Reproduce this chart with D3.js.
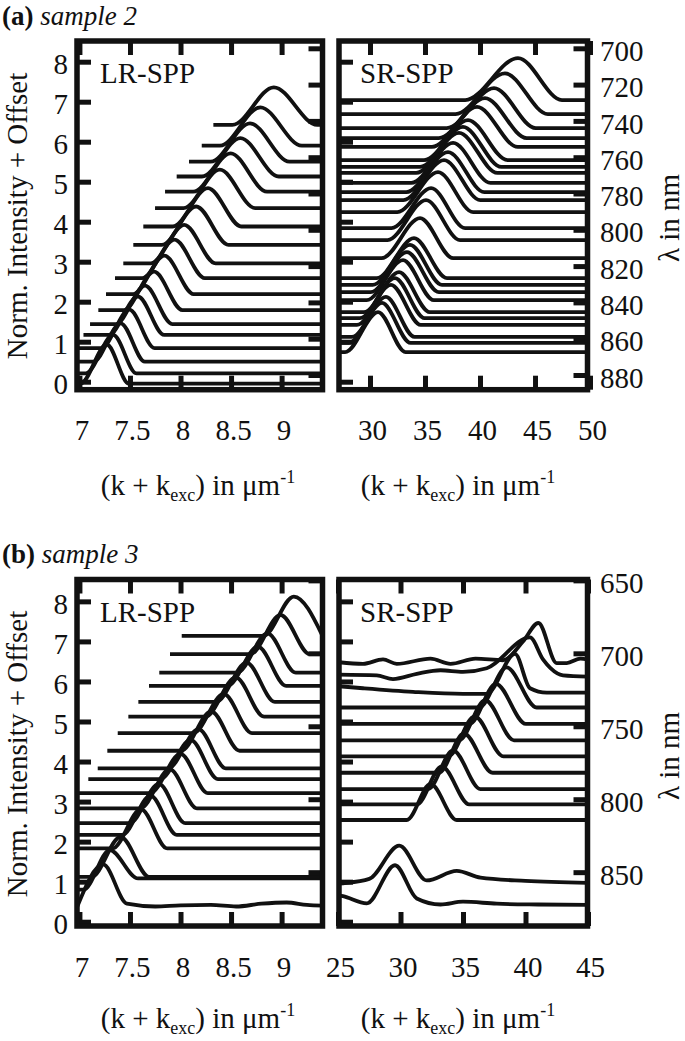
<!DOCTYPE html>
<html><head><meta charset="utf-8">
<script src="https://cdn.jsdelivr.net/npm/d3@7"></script>
<style>
html,body{margin:0;padding:0;background:#fff;}
svg{display:block;}
</style></head><body>
<svg id="chart" width="685" height="1041"></svg>
<script>
// ---------- tick values ----------
const yTicks = [0,1,2,3,4,5,6,7,8];
const xTicksLR = [7,7.5,8,8.5,9];
const xTicksSRa = [30,35,40,45,50];
const xTicksSRb = [25,30,35,40,45];
const lamTicksA = [700,720,740,760,780,800,820,840,860,880];
const lamTicksB = [650,700,750,800,850];

// ---------- (a) sample 2, LR-SPP : one entry per spectrum (bottom -> top) ----------
const aLR_offset = [-0.05,0.21,0.50,0.84,1.17,1.44,1.79,2.19,2.59,2.96,3.42,3.88,4.34,4.75,5.13,5.50,5.90,6.42];
const aLR_start  = [6.976,6.976,6.976,6.976,7.04,7.105,7.187,7.263,7.352,7.434,7.533,7.632,7.748,7.847,7.962,8.084,8.21,8.325];
const aLR_peak   = [7.27,7.334,7.408,7.494,7.579,7.649,7.739,7.841,7.941,8.037,8.155,8.272,8.389,8.496,8.592,8.688,8.790,8.923];
const aLR_height = [0.98,0.96,0.96,0.96,0.96,0.96,0.96,0.96,0.96,0.96,0.96,0.96,0.96,0.96,0.96,0.96,0.96,0.94];
const aLR_riseW  = [0.26,0.27,0.27,0.28,0.29,0.29,0.30,0.31,0.32,0.33,0.34,0.35,0.36,0.37,0.38,0.39,0.40,0.41];
const aLR_fallW  = [0.22,0.23,0.24,0.25,0.26,0.27,0.28,0.29,0.30,0.31,0.32,0.33,0.35,0.36,0.38,0.39,0.41,0.43];

// ---------- (a) sample 2, SR-SPP ----------
const aSR_offset = [0.74,0.97,1.12,1.42,1.59,1.74,2.04,2.24,2.42,2.59,3.09,3.54,3.84,4.24,4.54,4.74,4.97,5.22,5.37,5.54,5.87,6.09,6.34,6.69,7.04];
const aSR_peak   = [30.73,31.09,31.45,31.91,32.27,32.64,33.0,33.36,33.64,34.0,34.55,35.09,35.55,36.18,36.73,37.09,37.55,38.09,38.45,38.91,39.73,40.45,41.27,42.27,43.45];
const aSR_height = [1,1,1,1,1,1,1,1,1,1,1,1,1,1,1,1,1,1,1,1,1,1,1,1.02,1.05];
const aSR_riseW  = [3.0,3.0,3.1,3.1,3.2,3.2,3.3,3.3,3.4,3.4,3.5,3.5,3.6,3.7,3.7,3.8,3.8,3.9,3.9,4.0,4.1,4.2,4.3,4.5,4.8];
const aSR_fallW  = [2.5,2.6,2.6,2.7,2.7,2.8,2.8,2.9,2.9,3.0,3.0,3.1,3.1,3.2,3.3,3.3,3.4,3.5,3.5,3.6,3.7,3.8,3.8,3.9,4.0];

// ---------- (b) sample 3, LR-SPP ----------
const bLR_low = [
  [[6.976,0.36],[7.235,1.43],[7.47,0.45],[7.75,0.38],[8.0,0.41],[8.3,0.42],[8.55,0.38],[8.8,0.45],[9.05,0.48],[9.25,0.42],[9.4046,0.40]],
  [[6.976,0.80],[7.04,0.80],[7.30,1.79],[7.58,1.08],[9.4046,1.08]],
  [[6.976,1.12],[7.12,1.12],[7.407,2.12],[7.69,1.12],[9.4046,1.12]]
];
const bLR_offset = [1.83,2.17,2.46,2.83,3.21,3.56,3.83,4.27,4.71,5.12,5.49,5.89,6.22,6.68,7.14];
const bLR_start  = [6.976,6.976,6.976,6.976,6.976,7.088,7.181,7.276,7.379,7.484,7.583,7.688,7.790,7.896,8.012];
const bLR_peak   = [7.608,7.703,7.786,7.893,8.0,8.100,8.178,8.304,8.427,8.546,8.653,8.765,8.860,8.990,9.121];
const bLR_height = [0.98,0.98,0.98,0.98,0.98,0.98,0.98,0.98,0.98,0.98,0.98,0.98,0.98,0.98,0.98];
const bLR_riseW  = [0.28,0.28,0.29,0.29,0.30,0.30,0.30,0.30,0.30,0.30,0.30,0.30,0.30,0.30,0.30];
const bLR_fallW  = [0.26,0.26,0.26,0.27,0.27,0.27,0.27,0.28,0.28,0.28,0.28,0.28,0.28,0.29,0.29];

// ---------- (b) sample 3, SR-SPP ----------
const bSR_wavy = [
  [[25.08,0.66],[25.4,0.64],[27.3,0.46],[29.56,1.41],[31.3,0.58],[33.2,0.43],[35.0,0.50],[37.7,0.45],[41.0,0.43],[44.96,0.42]],
  [[25.08,0.95],[25.4,0.96],[27.5,1.07],[29.9,1.90],[32.1,1.03],[34.5,1.27],[36.4,1.10],[40.0,1.02],[44.96,0.97]],
  [[25.08,5.88],[27.0,5.83],[31.0,5.74],[35.0,5.69],[36.9,5.69],[39.16,6.69],[40.36,5.83],[41.7,5.72],[44.96,5.72]],
  [[25.08,6.17],[28.1,6.15],[29.4,6.06],[31.3,6.19],[33.2,6.28],[35.0,6.24],[36.9,6.33],[40.36,7.10],[41.4,6.55],[42.0,6.33],[43.0,6.15],[44.96,6.12]],
  [[25.08,6.48],[27.0,6.44],[28.6,6.55],[29.7,6.44],[32.4,6.57],[34.0,6.44],[36.0,6.57],[38.2,6.53],[39.8,7.0],[41.03,7.46],[42.5,6.46],[43.3,6.46],[44.4,6.57],[44.96,6.55]]
];
const bSR_offset = [2.54,2.93,3.31,3.72,4.13,4.53,4.94,5.35];
const bSR_peak   = [32.4,33.3,34.2,35.07,35.93,36.78,37.63,38.49];
const bSR_height = [0.9,0.95,0.97,0.98,1.0,1.0,1.0,1.0];
const bSR_riseW  = [1.9,2.0,2.0,2.0,2.1,2.1,2.1,2.2];
const bSR_fallW  = [2.1,2.2,2.2,2.3,2.3,2.3,2.4,2.4];

// ---------- helpers ----------
const INK = '#111';
const FS = 29;
const FONT = "'Liberation Serif', Tinos, 'Times New Roman', serif";
const svg = d3.select('#chart');
const defs = svg.append('defs');
const txt = sel => sel.style('font-family', FONT).style('fill', INK);

function peakPts(start, base, peak, h, rw, fw, xmax){
  const pts = [[start, base]];
  if (peak - rw > start + 1e-6) pts.push([peak - rw, base]);
  pts.push([peak, base + h]);
  if (peak + fw < xmax - 1e-6) pts.push([peak + fw, base]);
  pts.push([xmax, base]);
  return pts;
}

const LRdom = [6.976, 9.4046];
const SRaDom = [27.18, 49.77];
const SRbDom = [25.08, 44.96];

const curvesALR = aLR_offset.map((b,i)=>peakPts(aLR_start[i], b, aLR_peak[i], aLR_height[i], aLR_riseW[i], aLR_fallW[i], LRdom[1]));
const curvesASR = aSR_offset.map((b,i)=>peakPts(SRaDom[0], b, aSR_peak[i], aSR_height[i], aSR_riseW[i], aSR_fallW[i], SRaDom[1]));
const curvesBLR = bLR_low.concat(bLR_offset.map((b,i)=>peakPts(bLR_start[i], b, bLR_peak[i], bLR_height[i], bLR_riseW[i], bLR_fallW[i], LRdom[1])));
const curvesBSR = bSR_wavy.slice(0,2)
  .concat(bSR_offset.map((b,i)=>peakPts(SRbDom[0], b, bSR_peak[i], bSR_height[i], bSR_riseW[i], bSR_fallW[i], SRbDom[1])))
  .concat(bSR_wavy.slice(2));

const rows = [
  {dy:0,   yTop:41,    yBot:389.7, vDom:[-0.2,8.5175],  lamDom:[888.1,695.98], lamTicks:lamTicksA, tag:'(a)', sample:'sample 2', titleOff:105},
  {dy:538, yTop:579.5, yBot:926,   vDom:[-0.107,8.546], lamDom:[886.9,649.4],  lamTicks:lamTicksB, tag:'(b)', sample:'sample 3', titleOff:102}
];

function drawPanel(p){
  const x = d3.scaleLinear().domain(p.xDom).range([p.x0,p.x1]);
  const y = d3.scaleLinear().domain(p.vDom).range([p.yBot,p.yTop]);
  const lam = d3.scaleLinear().domain(p.lamDom).range([p.yBot,p.yTop]);
  const g = svg.append('g');
  defs.append('clipPath').attr('id',p.id).append('rect')
    .attr('x',p.x0).attr('y',p.yTop).attr('width',p.x1-p.x0).attr('height',p.yBot-p.yTop);
  const line = d3.line().x(d=>x(d[0])).y(d=>y(d[1])).curve(d3.curveMonotoneX);
  g.append('g').attr('clip-path',`url(#${p.id})`)
    .selectAll('path').data(p.curves).join('path')
    .attr('d',line).attr('fill','none').attr('stroke',INK).attr('stroke-width',3.8)
    .attr('stroke-linejoin','round');
  const T = 14;
  const ab = g.append('g').attr('transform',`translate(0,${p.yBot})`)
    .call(d3.axisBottom(x).tickValues(p.xTicks).tickSizeInner(-T).tickSizeOuter(0).tickPadding(30).tickFormat(d3.format('~g')));
  const at = g.append('g').attr('transform',`translate(0,${p.yTop})`)
    .call(d3.axisTop(x).tickValues(p.xTicks).tickSizeInner(-T).tickSizeOuter(0).tickFormat(''));
  const al = g.append('g').attr('transform',`translate(${p.x0},0)`)
    .call(d3.axisLeft(y).tickValues(yTicks).tickSizeInner(-T).tickSizeOuter(0).tickPadding(9).tickFormat(p.left ? d3.format('d') : ''));
  const ar = g.append('g').attr('transform',`translate(${p.x1},0)`)
    .call(d3.axisRight(lam).tickValues(p.lamTicks).tickSizeInner(-T).tickSizeOuter(0).tickPadding(12.5).tickFormat(p.left ? '' : d3.format('d')));
  [ab,at,al,ar].forEach(a=>{
    a.attr('font-family',null).attr('font-size',FS);
    a.select('.domain').remove();
    a.selectAll('.tick line').attr('stroke',INK).attr('stroke-width',5);
    a.selectAll('text').attr('font-size',FS).call(txt);
  });
  ab.selectAll('text').attr('dx',2);
  al.selectAll('text').attr('dy','0.42em');
  ar.selectAll('text').attr('dy','0.42em');
  g.append('rect').attr('x',p.x0).attr('y',p.yTop).attr('width',p.x1-p.x0).attr('height',p.yBot-p.yTop)
    .attr('fill','none').attr('stroke',INK).attr('stroke-width',5.5);
  g.append('text').attr('x',p.lx).attr('y',p.yTop+42).attr('font-size',FS).call(txt).text(p.name);
  // x title
  const t = g.append('text').attr('x',p.tx).attr('y',p.yBot+p.titleOff).attr('text-anchor','middle').attr('font-size',FS).call(txt);
  t.append('tspan').text('(k + k');
  t.append('tspan').attr('font-size',18).attr('dy',6).text('exc');
  t.append('tspan').attr('dy',-6).text(') in \u03bcm');
  t.append('tspan').attr('font-size',18).attr('dy',-12).text('-1');
}

rows.forEach((r,ri)=>{
  drawPanel({id:'c'+ri+'l', x0:77, x1:322.5, xDom:LRdom, yTop:r.yTop, yBot:r.yBot, vDom:r.vDom, lamDom:r.lamDom, titleOff:r.titleOff,
    xTicks:xTicksLR, lamTicks:r.lamTicks, left:true, curves: ri===0?curvesALR:curvesBLR, name:'LR-SPP', lx:100, tx:198});
  drawPanel({id:'c'+ri+'r', x0:339, x1:587.5, xDom: ri===0?SRaDom:SRbDom, yTop:r.yTop, yBot:r.yBot, vDom:r.vDom, lamDom:r.lamDom, titleOff:r.titleOff,
    xTicks: ri===0?xTicksSRa:xTicksSRb, lamTicks:r.lamTicks, left:false, curves: ri===0?curvesASR:curvesBSR, name:'SR-SPP', lx:360, tx:458});
  // panel header
  const h = svg.append('text').attr('x',2).attr('y',25+r.dy).attr('font-size',27).call(txt);
  h.append('tspan').attr('font-weight','bold').text(r.tag);
  h.append('tspan').attr('font-style','italic').text(' '+r.sample);
  // y titles
  svg.append('text').attr('transform',`translate(27,${216+r.dy}) rotate(-90)`).attr('text-anchor','middle')
    .attr('font-size',FS).call(txt).text('Norm. Intensity + Offset');
  svg.append('text').attr('transform',`translate(679,${218+r.dy}) rotate(-90)`).attr('text-anchor','middle')
    .attr('font-size',FS).call(txt).text('\u03bb in nm');
});
</script>
</body></html>
